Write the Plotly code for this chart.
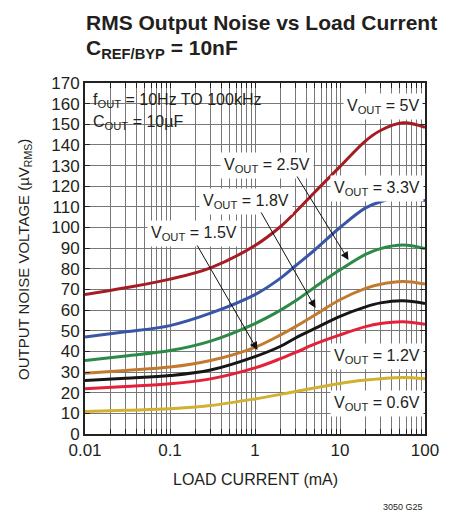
import plotly.graph_objects as go

# ---------------- data ----------------
load_ma = [0.01, 0.03, 0.1, 0.3, 1, 2, 3, 5, 10, 20, 30, 55, 100]
v5_0 = [67.5, 70.8, 75.0, 80.5, 91.3, 100.5, 107.5, 117.0, 129.5, 142.0, 147.0, 150.7, 148.5]
v3_3 = [47.0, 49.5, 52.5, 58.5, 67.5, 75.5, 81.5, 89.0, 100.0, 109.5, 112.5, 114.5, 113.0]
v2_5 = [35.6, 37.8, 40.4, 45.0, 53.5, 60.0, 64.5, 71.0, 79.5, 87.0, 89.8, 91.5, 89.8]
v1_8 = [29.4, 30.8, 32.4, 35.6, 42.0, 48.0, 52.0, 57.5, 65.0, 70.5, 72.5, 73.8, 72.6]
v1_5 = [25.9, 27.0, 28.3, 31.0, 37.5, 42.5, 46.5, 51.0, 57.0, 61.6, 63.5, 64.5, 63.2]
v1_2 = [21.9, 23.0, 24.3, 26.7, 32.0, 36.5, 39.5, 43.5, 48.0, 52.0, 53.5, 54.4, 53.2]
v0_6 = [10.9, 11.5, 12.2, 13.8, 17.0, 19.2, 20.6, 22.3, 24.5, 26.1, 26.8, 27.4, 26.8]

x_tickvals = [0.01, 0.1, 1, 10, 100]
x_ticktext = ["0.01", "0.1", "1", "10", "100"]
y_tickvals = list(range(0, 171, 10))

series = [
    ("V<sub>OUT</sub> = 5V", v5_0, "#a51c24"),
    ("V<sub>OUT</sub> = 3.3V", v3_3, "#3955a6"),
    ("V<sub>OUT</sub> = 2.5V", v2_5, "#2b8a45"),
    ("V<sub>OUT</sub> = 1.8V", v1_8, "#c27a30"),
    ("V<sub>OUT</sub> = 1.5V", v1_5, "#161616"),
    ("V<sub>OUT</sub> = 1.2V", v1_2, "#e5213a"),
    ("V<sub>OUT</sub> = 0.6V", v0_6, "#d1b032"),
]

FONT = "Liberation Sans, Arial, sans-serif"
TXT = "#231f20"
W, H = 451, 516
L, R, T, B = 85, 436, 83, 434
GRID = "#777777"

def pp(px, py):
    return (px - L) / (R - L), (B - py) / (B - T)

def dx(px):
    return (px - L) / (R - L) * 4 - 2

def dy(py):
    return (B - py) / (B - T) * 170

fig = go.Figure()
for name, vals, col in series:
    fig.add_trace(go.Scatter(x=load_ma, y=vals, mode="lines", name=name,
                             line=dict(color=col, width=3, shape="spline", smoothing=1.0),
                             showlegend=False, hoverinfo="skip"))

fig.update_layout(
    width=W, height=H,
    margin=dict(l=L, r=W - R, t=T, b=H - B),
    paper_bgcolor="white", plot_bgcolor="white",
    font=dict(family=FONT, color=TXT),
)
fig.update_xaxes(
    type="log", range=[-2, 2], tickvals=x_tickvals, ticktext=x_ticktext,
    showgrid=True, gridcolor=GRID, gridwidth=1,
    ticks="inside", ticklen=5, tickcolor="#222",
    showline=True, linecolor="#222", linewidth=2, mirror="allticks",
    tickfont=dict(size=17, family=FONT, color=TXT),
    minor=dict(dtick="D1", showgrid=True, gridcolor=GRID, gridwidth=1,
               ticks="inside", ticklen=5, tickcolor="#222"),
    zeroline=False,
)
fig.update_yaxes(
    range=[0, 170], tickvals=y_tickvals,
    showgrid=True, gridcolor=GRID, gridwidth=1,
    ticks="inside", ticklen=5, tickcolor="#222",
    showline=True, linecolor="#222", linewidth=2, mirror="allticks",
    tickfont=dict(size=17, family=FONT, color=TXT),
    zeroline=False,
)

# white area behind the condition text (top-left)
x1, y0 = pp(286, 137)
fig.add_shape(type="rect", xref="paper", yref="paper", x0=0, x1=x1, y0=y0, y1=1,
              fillcolor="white", line=dict(width=0), layer="between")

ann = []
# title lines
ann.append(dict(text="<b>RMS Output Noise vs Load Current</b>", xref="paper", yref="paper",
                x=pp(84, 0)[0], y=pp(0, 23)[1], xanchor="left", yanchor="middle",
                showarrow=False, font=dict(size=21, family=FONT, color=TXT)))
ann.append(dict(text="<b>C<sub>REF/BYP</sub> = 10nF</b>", xref="paper", yref="paper",
                x=pp(84, 0)[0], y=pp(0, 49)[1], xanchor="left", yanchor="middle",
                showarrow=False, font=dict(size=21, family=FONT, color=TXT)))
# condition text
ann.append(dict(text="f<sub>OUT</sub> = 10Hz TO 100kHz", xref="paper", yref="paper",
                x=pp(91, 0)[0], y=pp(0, 100)[1], xanchor="left", yanchor="middle",
                showarrow=False, font=dict(size=16, family=FONT, color=TXT)))
ann.append(dict(text="C<sub>OUT</sub> = 10µF", xref="paper", yref="paper",
                x=pp(91, 0)[0], y=pp(0, 122)[1], xanchor="left", yanchor="middle",
                showarrow=False, font=dict(size=16, family=FONT, color=TXT)))
# series labels (center px)
label_pos = {
    "V<sub>OUT</sub> = 5V": (393, 106),
    "V<sub>OUT</sub> = 3.3V": (386, 188),
    "V<sub>OUT</sub> = 2.5V": (273, 165),
    "V<sub>OUT</sub> = 1.8V": (251, 201),
    "V<sub>OUT</sub> = 1.5V": (198, 233),
    "V<sub>OUT</sub> = 1.2V": (386, 356),
    "V<sub>OUT</sub> = 0.6V": (386, 403),
}
for name, vals, col in series:
    px, py = label_pos[name]
    xp, yp = pp(px, py)
    ann.append(dict(text=name, xref="paper", yref="paper", x=xp, y=yp,
                    xanchor="center", yanchor="middle", showarrow=False,
                    bgcolor="white", borderpad=3,
                    font=dict(size=16, family=FONT, color=TXT)))
# arrows (tail px -> tip px)
arrows = [((200, 244), (263, 350)), ((266, 211), (323, 308)), ((303, 175), (357, 260))]
for (tx, ty), (hx, hy) in arrows:
    ann.append(dict(text="", xref="x", yref="y", axref="x", ayref="y",
                    x=dx(hx), y=dy(hy), ax=dx(tx), ay=dy(ty),
                    showarrow=True, arrowhead=2, arrowsize=1.6, arrowwidth=1,
                    arrowcolor="#111"))
# axis titles
ann.append(dict(text="OUTPUT NOISE VOLTAGE (µV<sub>RMS</sub>)", xref="paper", yref="paper",
                x=pp(22, 0)[0], y=pp(0, 259)[1], xanchor="center", yanchor="middle",
                textangle=-90, showarrow=False, font=dict(size=15, family=FONT, color=TXT)))
ann.append(dict(text="LOAD CURRENT (mA)", xref="paper", yref="paper",
                x=pp(261, 0)[0], y=pp(0, 479)[1], xanchor="center", yanchor="middle",
                showarrow=False, font=dict(size=16, family=FONT, color=TXT)))
ann.append(dict(text="3050 G25", xref="paper", yref="paper",
                x=pp(436, 0)[0], y=pp(0, 507)[1], xanchor="right", yanchor="middle",
                showarrow=False, font=dict(size=9, family=FONT, color=TXT)))
fig.update_layout(annotations=ann)

fig.write_html("out.html", config={"displayModeBar": False},
               post_script="document.body.style.margin='0';document.body.style.padding='0';")
